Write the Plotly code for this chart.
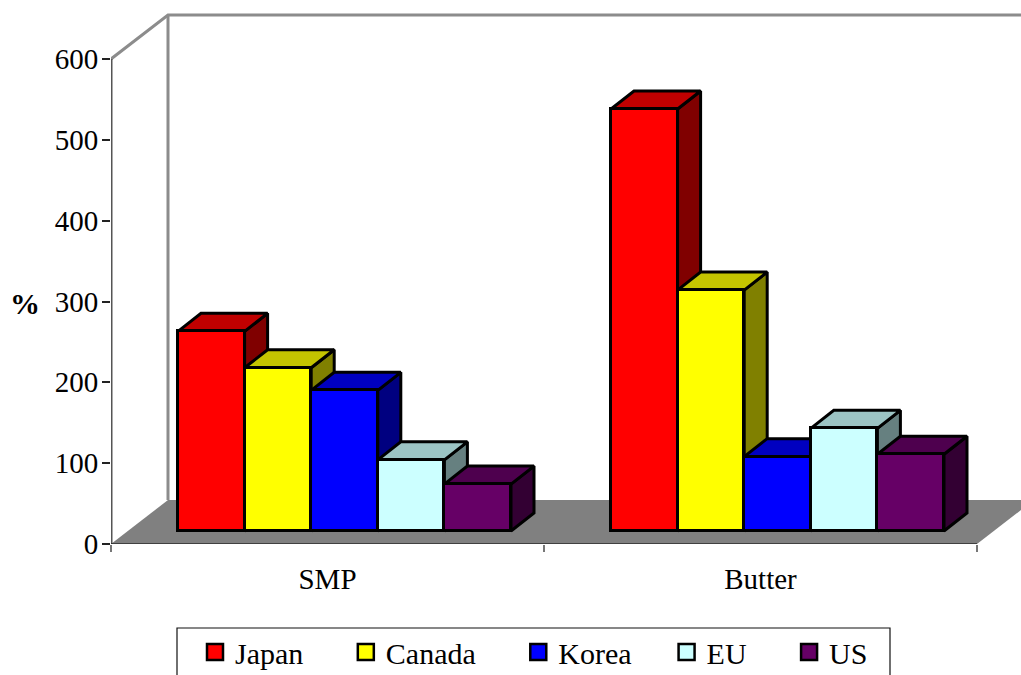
import plotly.graph_objects as go

groups = ["SMP", "Butter"]
series = ["Japan", "Canada", "Korea", "EU", "US"]
values = {
    "Japan": [247, 522],
    "Canada": [202, 298],
    "Korea": [174, 92],
    "EU": [88, 127],
    "US": [58, 95],
}
front_colors = ["#FF0000", "#FFFF00", "#0000FF", "#CCFFFF", "#660066"]
top_colors = ["#C00000", "#C4C400", "#0000C0", "#9CC4C4", "#4E004E"]
side_colors = ["#800000", "#808000", "#000080", "#668080", "#330033"]
yticks = [0, 100, 200, 300, 400, 500, 600]

W, H = 1021, 675
L, B = 111, 131
PX_X = 433.0      # px per group
PX_Y = 485 / 600  # px per %
FONT = "Liberation Serif"

DX_WALL, DY_WALL = 57 / PX_X, 44 / PX_Y
DX_BAR, DY_BAR = 23 / PX_X, 18 / PX_Y
BASE = 13 / PX_Y
BAR_W = 66.6 / PX_X
START = 67 / PX_X

fig = go.Figure()

# floor and walls
fig.add_trace(go.Scatter(x=[0, DX_WALL, 2 + DX_WALL, 2, 0], y=[0, DY_WALL, DY_WALL, 0, 0],
                         mode="none", fill="toself", fillcolor="#808080",
                         hoverinfo="skip", showlegend=False, zorder=-3))
fig.add_trace(go.Scatter(x=[0, DX_WALL, 2 + DX_WALL, None, DX_WALL, DX_WALL],
                         y=[600, 600 + DY_WALL, 600 + DY_WALL, None, 600 + DY_WALL, DY_WALL],
                         mode="lines", line=dict(color="#8C8C8C", width=3), cliponaxis=False,
                         hoverinfo="skip", showlegend=False, zorder=-2))
fig.add_trace(go.Scatter(x=[0, 0], y=[0, 600], mode="lines",
                         line=dict(color="#555555", width=3), cliponaxis=False,
                         hoverinfo="skip", showlegend=False, zorder=-1))
fig.add_trace(go.Scatter(x=[0, 2], y=[0, 0], mode="lines",
                         line=dict(color="#000000", width=1.2), cliponaxis=False,
                         hoverinfo="skip", showlegend=False, zorder=-1))

line = dict(color="#000000", width=3)
for i, name in enumerate(series):
    tx, ty, sx, sy = [], [], [], []
    for g, v in enumerate(values[name]):
        x0 = g + START + i * BAR_W
        x1 = x0 + BAR_W
        top = BASE + v
        tx += [x0, x0 + DX_BAR, x1 + DX_BAR, x1, x0, None]
        ty += [top, top + DY_BAR, top + DY_BAR, top, top, None]
        sx += [x1, x1 + DX_BAR, x1 + DX_BAR, x1, x1, None]
        sy += [top, top + DY_BAR, BASE + DY_BAR, BASE, top, None]
    fig.add_trace(go.Scatter(x=sx, y=sy, mode="lines", fill="toself", fillcolor=side_colors[i],
                             line=line, hoverinfo="skip", showlegend=False, zorder=2 * i))
    fig.add_trace(go.Scatter(x=tx, y=ty, mode="lines", fill="toself", fillcolor=top_colors[i],
                             line=line, hoverinfo="skip", showlegend=False, zorder=2 * i))
    fig.add_trace(go.Bar(x=[0.5, 1.5], y=values[name], base=BASE, width=BAR_W,
                         offset=START - 0.5 + i * BAR_W, name=name,
                         marker=dict(color=front_colors[i], line=line),
                         showlegend=False, zorder=2 * i + 1))

# legend entries
pads = [5, 5, 4, 5, 0]
for i, name in enumerate(series):
    fig.add_trace(go.Scatter(x=[None], y=[None], mode="markers", name=name + "\u00a0" * pads[i],
                             marker=dict(symbol="square", size=17, color=front_colors[i],
                                         line=dict(color="#000000", width=2.5))))

plot_h = H - B
fig.update_layout(
    width=W, height=H, autosize=False,
    margin=dict(l=L, r=0, t=0, b=B, pad=0),
    paper_bgcolor="#FFFFFF", plot_bgcolor="rgba(0,0,0,0)",
    barmode="overlay", bargap=0,
    font=dict(family=FONT, size=29, color="#000000"),
    xaxis=dict(range=[0, (W - L) / PX_X], tickvals=[0.5, 1.5], ticktext=groups,
               ticks="outside", ticklen=9, tickcolor="rgba(0,0,0,0)", showgrid=False, zeroline=False,
               showline=False, tickfont=dict(family=FONT, size=29),
               minor=dict(tickvals=[0, 1, 2], ticks="outside", ticklen=7, tickwidth=1.5,
                          tickcolor="#777777", showgrid=False)),
    yaxis=dict(range=[0, plot_h / PX_Y], tickvals=yticks, ticks="outside", ticklen=8, tickwidth=1.5,
               tickcolor="#222222", showgrid=False, zeroline=False, showline=False,
               ticklabelstandoff=-2, tickfont=dict(family=FONT, size=29)),
    legend=dict(orientation="h", xref="container", yref="container",
                x=195 / W, xanchor="left", y=(H - 626) / H, yanchor="top",
                bgcolor="rgba(0,0,0,0)", borderwidth=0,
                font=dict(family=FONT, size=30), itemclick=False, itemdoubleclick=False),
    annotations=[dict(text="<b>%</b>", xref="paper", yref="paper", showarrow=False,
                      x=(25 - L) / (W - L), y=(plot_h - 303) / plot_h, xanchor="center",
                      font=dict(family=FONT, size=30))],
    shapes=[dict(type="rect", xref="paper", yref="paper", x0=(177 - L) / (W - L), x1=(890 - L) / (W - L),
                 y0=(plot_h - 628) / plot_h, y1=(plot_h - 700) / plot_h,
                 line=dict(color="#111111", width=1.2), fillcolor="rgba(0,0,0,0)")],
)
fig.write_html("out.html", config={"displayModeBar": False},
               post_script="document.body.style.margin='0';")
